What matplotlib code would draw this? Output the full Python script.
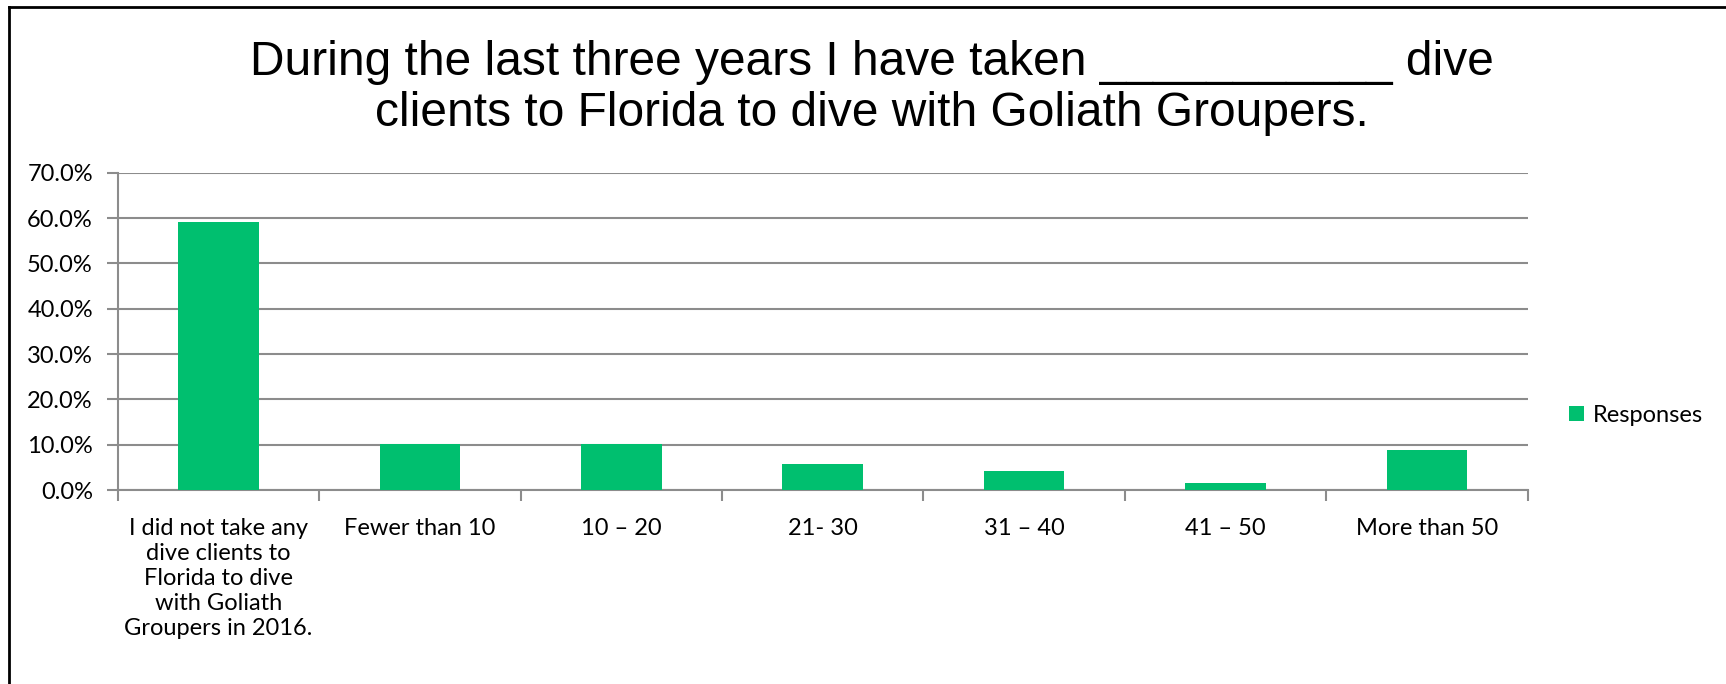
import matplotlib.pyplot as plt
from matplotlib.lines import Line2D
from matplotlib.ticker import FuncFormatter, FixedLocator

categories = [
    "I did not take any\ndive clients to\nFlorida to dive\nwith Goliath\nGroupers in 2016.",
    "Fewer than 10",
    "10 \u2013 20",
    "21- 30",
    "31 \u2013 40",
    "41 \u2013 50",
    "More than 50",
]
responses = [59.2, 10.2, 10.2, 5.8, 4.3, 1.5, 8.9]
title = ("During the last three years I have taken ___________ dive\n"
         "clients to Florida to dive with Goliath Groupers.")

green = "#00BF6F"
grey = "#8C8C8C"

fig = plt.figure(figsize=(17.26, 6.84), dpi=100)
ax = fig.add_axes([0.0683, 0.2836, 0.8167, 0.4638])

x = list(range(len(categories)))
ax.bar(x, responses, width=0.4, color=green, label="Responses", zorder=3)

ax.set_xlim(-0.5, len(categories) - 0.5)
ax.set_ylim(0, 70)
ax.set_yticks(range(0, 71, 10))
ax.yaxis.set_major_formatter(FuncFormatter(lambda v, p: f"{v:.1f}%"))
ax.grid(axis="y", color=grey, linewidth=1.5, zorder=0)

# category labels centred, tick marks on the boundaries
ax.set_xticks(x)
ax.set_xticklabels(categories, fontname="Lato", fontsize=17, linespacing=1.24, va="top")
ax.tick_params(axis="x", which="major", length=0, pad=20)
ax.xaxis.set_minor_locator(FixedLocator([i - 0.5 for i in range(len(categories) + 1)]))
ax.tick_params(axis="x", which="minor", length=8, width=1.5, color=grey)
ax.tick_params(axis="y", length=8, width=1.5, color=grey, pad=10)
for lab in ax.get_yticklabels():
    lab.set_fontname("Lato")
    lab.set_fontsize(17)

for side in ["top", "right"]:
    ax.spines[side].set_visible(False)
for side in ["left", "bottom"]:
    ax.spines[side].set_color(grey)
    ax.spines[side].set_linewidth(1.5)

fig.text(0.505, 0.872, title, ha="center", va="center", fontname="Liberation Sans",
         fontsize=34.5, linespacing=1.17)

fig.legend(loc="center left", bbox_to_anchor=(0.897, 0.393), frameon=False,
           prop={"family": "Lato", "size": 17}, handlelength=0.6, handleheight=0.6,
           handletextpad=0.4)

# frame only on top and left, as in the source slide
fig.lines.append(Line2D([9 / 1726, 1.0], [1 - 7 / 684, 1 - 7 / 684],
                        transform=fig.transFigure, color="black", linewidth=2))
fig.lines.append(Line2D([9 / 1726, 9 / 1726], [0.0, 1 - 7 / 684],
                        transform=fig.transFigure, color="black", linewidth=2))

fig.savefig("out.png", dpi=100)
